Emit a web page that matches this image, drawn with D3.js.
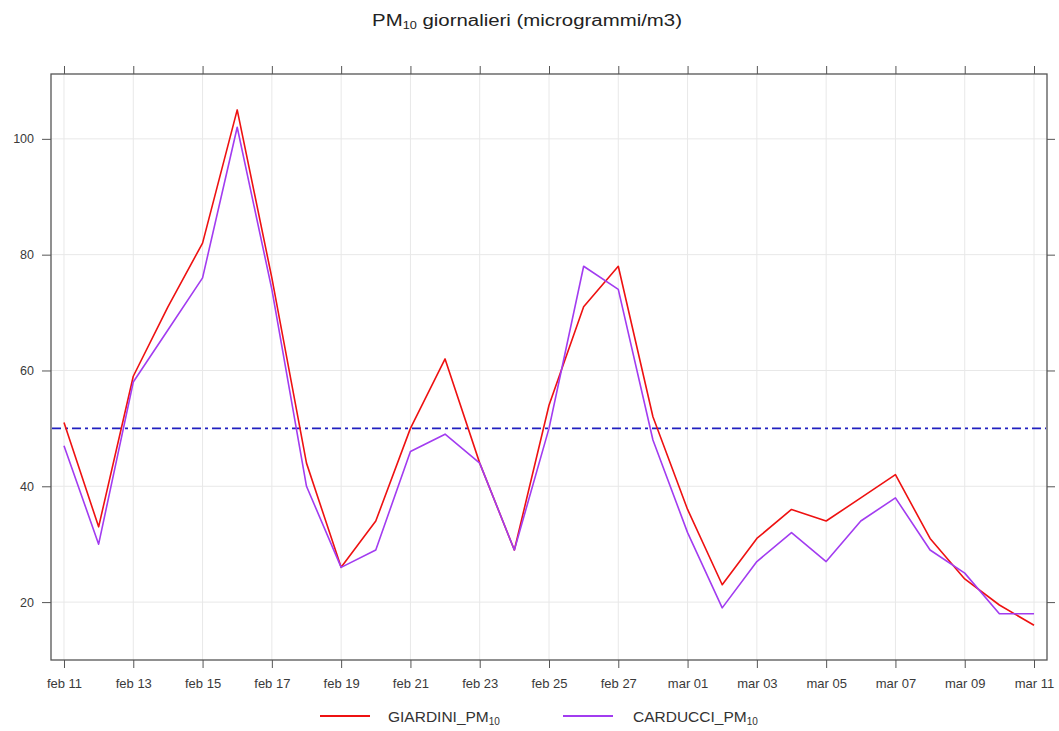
<!DOCTYPE html>
<html>
<head>
<meta charset="utf-8">
<script src="https://cdn.jsdelivr.net/npm/d3@7"></script>
<style>
  html, body { margin: 0; padding: 0; background: #fff; }
  svg { display: block; font-family: "Liberation Sans", Arial, sans-serif; }
</style>
</head>
<body>
<svg id="chart" width="1059" height="731"></svg>
<script>
// ---- data ----
const startDate = "2023-02-11";
const dayCount = 29; // feb 11 .. mar 11
const giardini = [51, 33, 59, 71, 82, 105, 76, 44, 26, 34, 50, 62, 44, 29, 54, 71, 78, 52, 36, 23, 31, 36, 34, 38, 42, 31, 24, 19.5, 16];
const carducci = [47, 30, 58, 67, 76, 102, 74, 40, 26, 29, 46, 49, 44, 29, 50, 78, 74, 48, 32, 19, 27, 32, 27, 34, 38, 29, 25, 18, 18];
const seriesNames = ["GIARDINI_PM", "CARDUCCI_PM"];
const seriesColors = ["#ee1111", "#a23cf0"];
const limitValue = 50;
const yTicks = [20, 40, 60, 80, 100];
const monthNames = ["gen","feb","mar","apr","mag","giu","lug","ago","set","ott","nov","dic"];

// ---- layout ----
const W = 1059, H = 731;
const mLeft = 51, mRight = 1047, mTop = 74, mBottom = 660;

const svg = d3.select("#chart");
const parse = d3.timeParse("%Y-%m-%d");
const d0 = parse(startDate);
const dates = d3.range(dayCount).map(i => d3.timeDay.offset(d0, i));
const xTickDates = dates.filter((d, i) => i % 2 === 0);
const fmt = d => monthNames[d.getMonth()] + " " + d3.format("02")(d.getDate());

const x = d3.scaleTime()
  .domain([d3.timeHour.offset(dates[0], -9), d3.timeHour.offset(dates[dates.length - 1], 9)])
  .range([mLeft, mRight]);
const y = d3.scaleLinear().domain([10, 111.2]).range([mBottom, mTop]);

// grid
const grid = svg.append("g");
grid.selectAll("line.v").data(xTickDates).enter().append("line").attr("class", "v")
  .attr("x1", d => x(d)).attr("x2", d => x(d)).attr("y1", mTop).attr("y2", mBottom)
  .attr("stroke", "#e8e8e8").attr("stroke-width", 1);
grid.selectAll("line.h").data(yTicks).enter().append("line").attr("class", "h")
  .attr("y1", d => y(d)).attr("y2", d => y(d)).attr("x1", mLeft).attr("x2", mRight)
  .attr("stroke", "#e8e8e8").attr("stroke-width", 1);

// axes
const axColor = "#555";
function styleAxis(fs) {
  return g => {
    g.select(".domain").remove();
    g.selectAll(".tick line").attr("stroke", axColor).attr("stroke-width", 1);
    g.selectAll(".tick text").attr("fill", "#3a3a3a").style("font-size", fs + "px");
  };
}
svg.append("g").attr("transform", `translate(0,${mBottom})`)
  .call(d3.axisBottom(x).tickValues(xTickDates).tickFormat(fmt).tickSize(8).tickPadding(11))
  .call(styleAxis(13));
svg.append("g").attr("transform", `translate(0,${mTop})`)
  .call(d3.axisTop(x).tickValues(xTickDates).tickFormat("").tickSize(8))
  .call(styleAxis(13));
svg.append("g").attr("transform", `translate(${mLeft},0)`)
  .call(d3.axisLeft(y).tickValues(yTicks).tickSize(9).tickPadding(8))
  .call(styleAxis(12.5));
svg.append("g").attr("transform", `translate(${mRight},0)`)
  .call(d3.axisRight(y).tickValues(yTicks).tickFormat("").tickSize(8))
  .call(styleAxis(12.5));

// frame
svg.append("rect").attr("x", mLeft).attr("y", mTop).attr("width", mRight - mLeft).attr("height", mBottom - mTop)
  .attr("fill", "none").attr("stroke", axColor).attr("stroke-width", 1.3);

// limit line
svg.append("line").attr("x1", mLeft + 1).attr("x2", mRight - 1).attr("y1", y(limitValue)).attr("y2", y(limitValue))
  .attr("stroke", "#2020c0").attr("stroke-width", 1.6).attr("stroke-dasharray", "9,4,3,4");

// series
const line = d3.line().x((d, i) => x(dates[i])).y(d => y(d));
[giardini, carducci].forEach((s, k) => {
  svg.append("path").datum(s).attr("d", line)
    .attr("fill", "none").attr("stroke", seriesColors[k]).attr("stroke-width", 1.6)
    .attr("stroke-linejoin", "round");
});

// title (glyphs are wide in the reference: stretch horizontally to match)
const titleG = svg.append("g");
const title = titleG.append("text").attr("x", 0).attr("y", 0).attr("text-anchor", "middle")
  .style("font-size", "16px").attr("fill", "#222");
title.append("tspan").text("PM");
title.append("tspan").text("10").attr("dy", 3).style("font-size", "10px");
title.append("tspan").text(" giornalieri (microgrammi/m3)").attr("dy", -3);
const tw = title.node().getBBox().width;
titleG.attr("transform", `translate(527,26) scale(${310 / tw},1)`);

// legend
const legendItems = [{x: 320, tx: 388}, {x: 563, tx: 633}];
legendItems.forEach((p, k) => {
  svg.append("line").attr("x1", p.x).attr("x2", p.x + 50).attr("y1", 716).attr("y2", 716)
    .attr("stroke", seriesColors[k]).attr("stroke-width", 1.8);
  const t = svg.append("text").attr("x", p.tx).attr("y", 722).style("font-size", "15.5px").attr("fill", "#333");
  t.append("tspan").text(seriesNames[k]);
  t.append("tspan").text("10").attr("dy", 3).style("font-size", "10px");
});
</script>
</body>
</html>
